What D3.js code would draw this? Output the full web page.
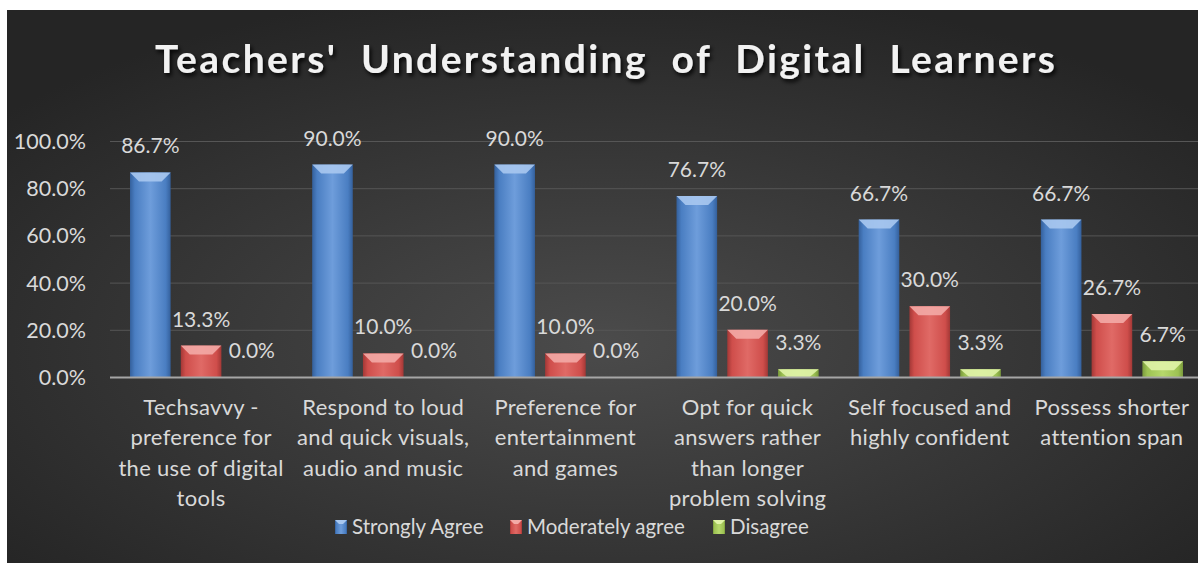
<!DOCTYPE html>
<html>
<head>
<meta charset="utf-8">
<style>
  body { margin: 0; background: #fff; }
  svg { display: block; }
  text { font-family: Lato, "Open Sans", sans-serif; fill: #d9d9d9; }
  .grid line { stroke: #565656; stroke-width: 1px; }
</style>
</head>
<body>
<div id="chart"></div>
<script src="https://d3js.org/d3.v7.min.js"></script>
<script>

// chart data
var categories = ["Techsavvy", "Respond", "Preference", "Opt", "Self", "Possess"];
var categoryLines = [
  ["Techsavvy -", "preference for", "the use of digital", "tools"],
  ["Respond to loud", "and quick visuals,", "audio and music"],
  ["Preference for", "entertainment", "and games"],
  ["Opt for quick", "answers rather", "than longer", "problem solving"],
  ["Self focused and", "highly confident"],
  ["Possess shorter", "attention span"]
];
var seriesNames = ["Strongly Agree", "Moderately agree", "Disagree"];
var stronglyAgree = [0.867, 0.900, 0.900, 0.767, 0.667, 0.667];
var moderatelyAgree = [0.133, 0.100, 0.100, 0.200, 0.300, 0.267];
var disagree = [0.000, 0.000, 0.000, 0.033, 0.033, 0.067];
var yTicks = [0, 0.2, 0.4, 0.6, 0.8, 1.0];

var seriesValues = [stronglyAgree, moderatelyAgree, disagree];
var colors = [
  {base: "#4a7ec2", light: "#6e9ddb", dark: "#34609c", top: "#a9c8f0"},
  {base: "#cf4e4b", light: "#e06a66", dark: "#a33836", top: "#f3aaa6"},
  {base: "#9dc253", light: "#b6d86c", dark: "#7a9a3c", top: "#e0f3a8"}
];

var W = 1198, H = 563;
var svg = d3.select("#chart").append("svg")
    .attr("width", W)
    .attr("height", H);

var defs = svg.append("defs");

// background
var bg = defs.append("radialGradient")
    .attr("id", "bg")
    .attr("cx", "50%").attr("cy", "60%").attr("r", "65%");
bg.append("stop").attr("offset", "0%").attr("stop-color", "#4b4b4b");
bg.append("stop").attr("offset", "100%").attr("stop-color", "#252525");

svg.append("rect")
    .attr("x", 7).attr("y", 10)
    .attr("width", W - 7).attr("height", H - 10)
    .attr("fill", "url(#bg)");

// bar gradients
colors.forEach(function(c, i) {
  var g = defs.append("linearGradient")
      .attr("id", "bar" + i)
      .attr("x1", "0%").attr("x2", "100%").attr("y1", "0%").attr("y2", "0%");
  g.append("stop").attr("offset", "0%").attr("stop-color", c.dark);
  g.append("stop").attr("offset", "12%").attr("stop-color", c.base);
  g.append("stop").attr("offset", "50%").attr("stop-color", c.light);
  g.append("stop").attr("offset", "88%").attr("stop-color", c.base);
  g.append("stop").attr("offset", "100%").attr("stop-color", c.dark);
});

var shadow = defs.append("filter").attr("id", "shadow")
    .attr("x", "-5%").attr("y", "-30%").attr("width", "110%").attr("height", "160%");
shadow.append("feDropShadow")
    .attr("dx", 2).attr("dy", 3).attr("stdDeviation", 2)
    .attr("flood-color", "#000").attr("flood-opacity", 0.9);

// scales
var x0 = d3.scaleBand().domain(categories).range([110, 1203]);
var x1 = d3.scaleBand().domain(seriesNames)
    .range([20, x0.bandwidth() - 20]).paddingInner(0.2);
var y = d3.scaleLinear().domain([0, 1]).range([377, 141]);

// gridlines
svg.append("g")
    .attr("class", "grid")
    .selectAll("line")
    .data(yTicks.slice(1))
    .enter().append("line")
    .attr("x1", 110).attr("x2", W)
    .attr("y1", function(d) { return y(d) + 0.5; })
    .attr("y2", function(d) { return y(d) + 0.5; });

// y axis labels
var yAxis = d3.axisLeft(y).tickValues(yTicks)
    .tickFormat(d3.format(".1%")).tickSize(0).tickPadding(0);
var yg = svg.append("g")
    .attr("transform", "translate(86,0)")
    .call(yAxis);
yg.select(".domain").remove();
yg.selectAll("text")
    .style("font-size", "21.5px")
    .attr("fill", "#d9d9d9")
    .attr("dy", "0.35em");

// bars
var groups = svg.selectAll(".group")
    .data(categories)
    .enter().append("g")
    .attr("class", "group")
    .attr("transform", function(d) { return "translate(" + x0(d) + ",0)"; });

seriesNames.forEach(function(s, si) {
  var bw = x1.bandwidth();
  groups.each(function(cat, ci) {
    var g = d3.select(this);
    var v = seriesValues[si][ci];
    var bx = x1(s), by = y(v), bh = y(0) - y(v);
    g.append("rect")
        .attr("x", bx).attr("y", by)
        .attr("width", bw).attr("height", bh)
        .attr("fill", "url(#bar" + si + ")");
    var b = Math.min(9, bh);
    if (bh > 0) {
      g.append("path")
          .attr("d", "M" + bx + "," + by + "L" + (bx + bw) + "," + by +
                "L" + (bx + bw - 9) + "," + (by + b) + "L" + (bx + 9) + "," + (by + b) + "Z")
          .attr("fill", colors[si].top)
          .attr("opacity", 0.9);
    }
    g.append("text")
        .attr("x", bx + bw / 2)
        .attr("y", by - 19)
        .attr("text-anchor", "middle")
        .style("font-size", "21px")
        .text(d3.format(".1%")(v));
  });
});

// x axis line
svg.append("line")
    .attr("x1", 110).attr("x2", W)
    .attr("y1", y(0) + 0.5).attr("y2", y(0) + 0.5)
    .attr("stroke", "#a6a6a6").attr("stroke-width", 2);

// category labels
groups.each(function(cat, ci) {
  var t = d3.select(this).append("text")
      .attr("text-anchor", "middle")
      .style("font-size", "22px")
      .style("letter-spacing", "0.3px");
  categoryLines[ci].forEach(function(line, li) {
    t.append("tspan")
        .attr("x", x0.bandwidth() / 2)
        .attr("y", 415 + li * 30.3)
        .text(line);
  });
});

// title
svg.append("text")
    .attr("x", 605).attr("y", 73)
    .attr("text-anchor", "middle")
    .attr("textLength", 900)
    .attr("lengthAdjust", "spacing")
    .attr("filter", "url(#shadow)")
    .style("font-size", "39px")
    .style("font-weight", "bold")
    .style("fill", "#f2f2f2")
    .text("Teachers'  Understanding  of  Digital  Learners")
    .attr("xml:space", "preserve")
    .style("white-space", "pre");

// legend
var legendX = [335, 510, 713];
var legend = svg.selectAll(".legend")
    .data(seriesNames)
    .enter().append("g")
    .attr("class", "legend")
    .attr("transform", function(d, i) { return "translate(" + legendX[i] + ",520)"; });
legend.append("rect")
    .attr("width", 12).attr("height", 14)
    .attr("fill", function(d, i) { return "url(#bar" + i + ")"; });
legend.append("path")
    .attr("d", "M0,0L12,0L8,4L4,4Z")
    .attr("fill", function(d, i) { return colors[i].top; });
legend.append("text")
    .attr("x", 17).attr("y", 14)
    .style("font-size", "20.5px")
    .text(function(d) { return d; });

</script>
</body>
</html>
